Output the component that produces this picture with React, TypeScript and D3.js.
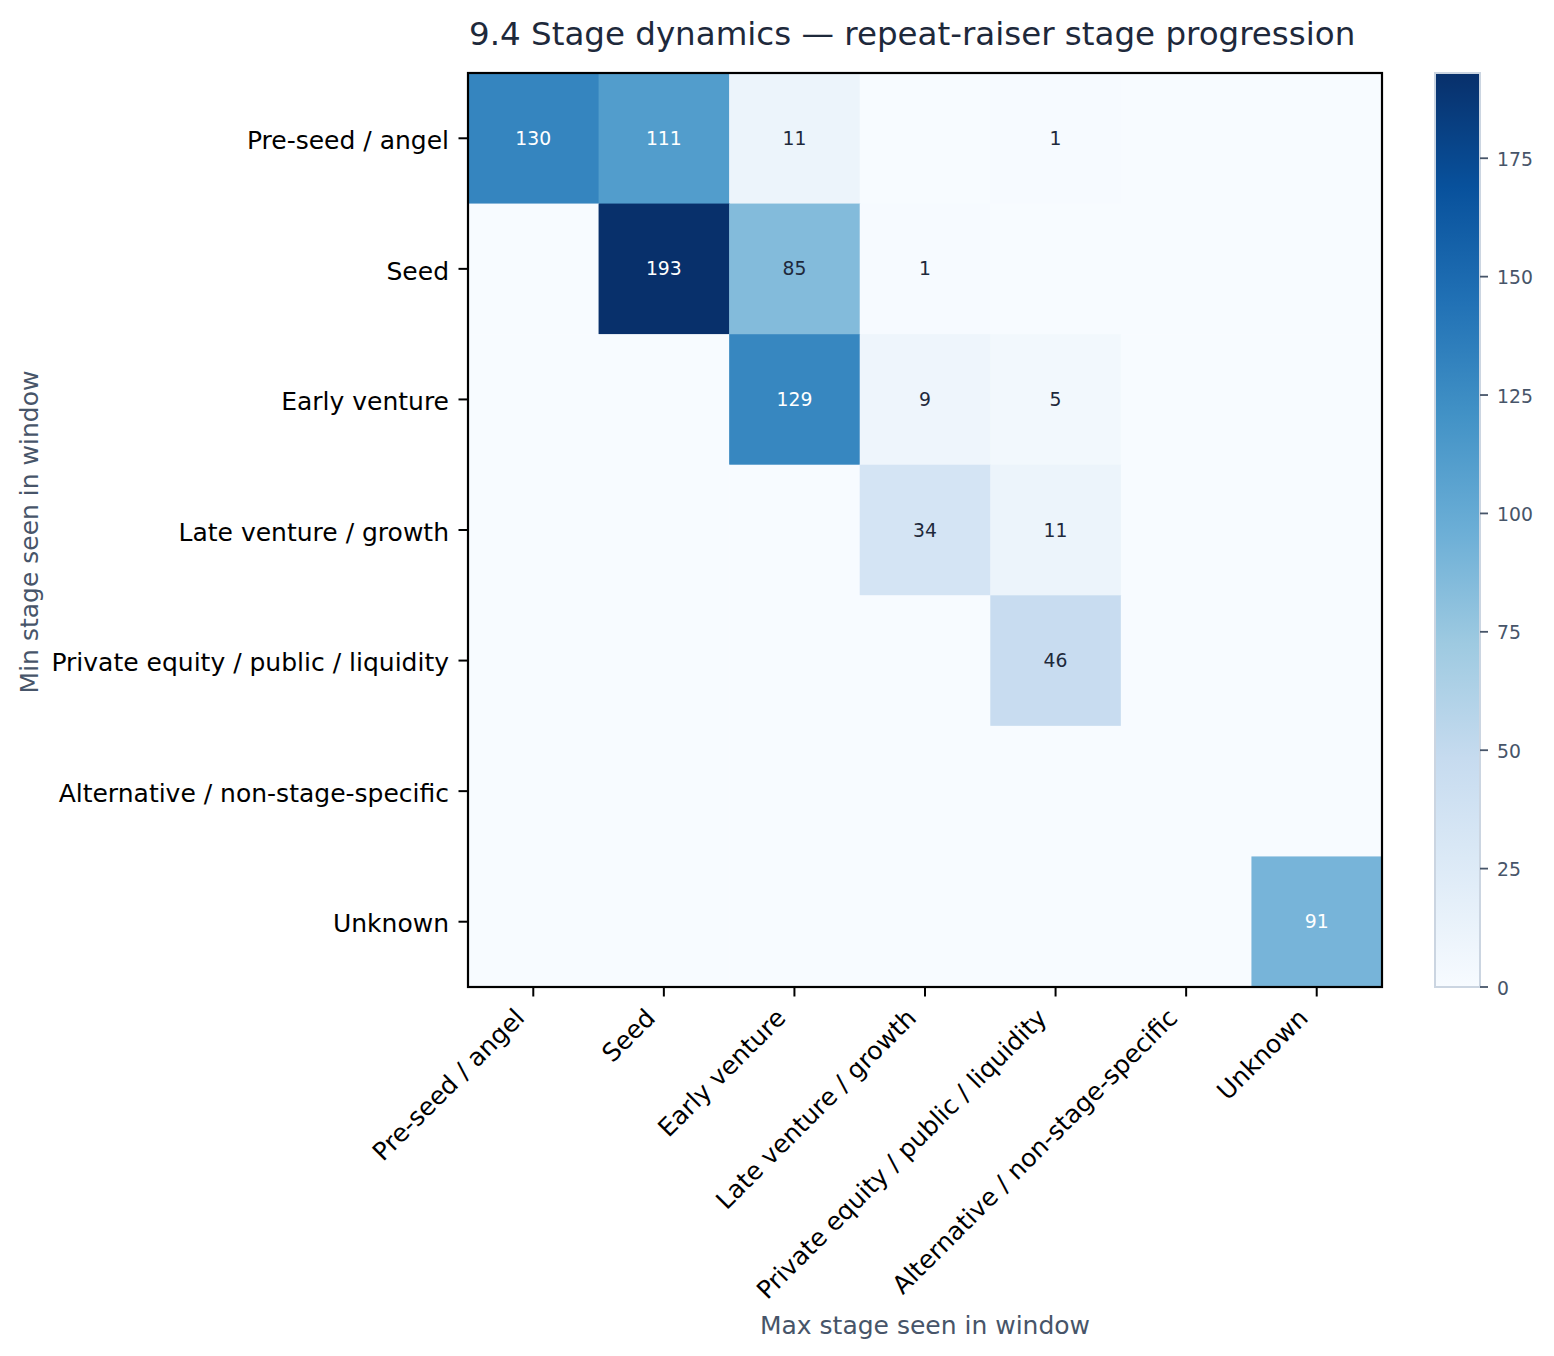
import React from "react";
import * as d3 from "d3";

// stage labels, same order on both axes
const stages = [
  "Pre-seed / angel",
  "Seed",
  "Early venture",
  "Late venture / growth",
  "Private equity / public / liquidity",
  "Alternative / non-stage-specific",
  "Unknown",
];

// rows = min stage, columns = max stage
const rowPreSeed = [130, 111, 11, 0, 1, 0, 0];
const rowSeed = [0, 193, 85, 1, 0, 0, 0];
const rowEarly = [0, 0, 129, 9, 5, 0, 0];
const rowLate = [0, 0, 0, 34, 11, 0, 0];
const rowPrivate = [0, 0, 0, 0, 46, 0, 0];
const rowAlternative = [0, 0, 0, 0, 0, 0, 0];
const rowUnknown = [0, 0, 0, 0, 0, 0, 91];
const counts = [rowPreSeed, rowSeed, rowEarly, rowLate, rowPrivate, rowAlternative, rowUnknown];

const colorbarTicks = [0, 25, 50, 75, 100, 125, 150, 175];

const W = 1554;
const H = 1356;
const left = 468;
const right = 1382;
const top = 73;
const bottom = 987;
const font = "DejaVu Sans, sans-serif";

export default function App() {
  const vmax = d3.max(counts.flat()) ?? 1;

  const x = d3.scaleBand<string>().domain(stages).range([left, right]);
  const y = d3.scaleBand<string>().domain(stages).range([top, bottom]);

  // matplotlib "Blues": linear through the 9 brewer colours
  const blues = d3.schemeBlues[9] as readonly string[];
  const color = d3
    .scaleLinear<string>()
    .domain(blues.map((_, i) => (i / (blues.length - 1)) * vmax))
    .range(blues as string[])
    .interpolate(d3.interpolateRgb);

  const cbLeft = 1435;
  const cbWidth = 45;
  const cbScale = d3.scaleLinear().domain([0, vmax]).range([bottom, top]);

  const tickLen = 9.5;
  const labelPad = 9.5;
  const fs = 25;

  return (
    <svg
      width={W}
      height={H}
      style={{ position: "absolute", left: 0, top: 0, background: "#fff" }}
      fontFamily={font}
    >
      <defs>
        <linearGradient id="cb" x1="0" y1="1" x2="0" y2="0">
          {blues.map((c, i) => (
            <stop key={i} offset={i / (blues.length - 1)} stopColor={c} />
          ))}
        </linearGradient>
      </defs>

      {/* title */}
      <text x={469} y={45} fontSize={32.5} fill="#1e293b">
        9.4 Stage dynamics — repeat-raiser stage progression
      </text>

      {/* cells */}
      {counts.map((row, ri) =>
        row.map((v, ci) => (
          <rect
            key={`${ri}-${ci}`}
            x={x(stages[ci])}
            y={y(stages[ri])}
            width={x.bandwidth() + 0.5}
            height={y.bandwidth() + 0.5}
            fill={color(v)}
          />
        ))
      )}

      {/* annotations, only non-zero */}
      {counts.map((row, ri) =>
        row.map((v, ci) =>
          v > 0 ? (
            <text
              key={`t-${ri}-${ci}`}
              x={(x(stages[ci]) ?? 0) + x.bandwidth() / 2}
              y={(y(stages[ri]) ?? 0) + y.bandwidth() / 2}
              dy="0.35em"
              textAnchor="middle"
              fontSize={18.8}
              fill={v > vmax * 0.45 ? "#ffffff" : "#1e293b"}
            >
              {v}
            </text>
          ) : null
        )
      )}

      {/* frame */}
      <rect x={left} y={top} width={right - left} height={bottom - top} fill="none" stroke="#000" strokeWidth={2.2} />

      {/* y axis */}
      {stages.map((s) => {
        const cy = (y(s) ?? 0) + y.bandwidth() / 2;
        return (
          <g key={`y-${s}`}>
            <line x1={left - tickLen} x2={left} y1={cy} y2={cy} stroke="#000" strokeWidth={2} />
            <text x={left - tickLen - labelPad} y={cy + 2} dy="0.35em" textAnchor="end" fontSize={fs} fill="#000">
              {s}
            </text>
          </g>
        );
      })}

      {/* x axis, labels rotated 45 and right-aligned on their bbox */}
      {stages.map((s) => {
        const cx = (x(s) ?? 0) + x.bandwidth() / 2;
        const ax = cx - 0.707 * fs * 0.24 - 3;
        const ay = bottom + tickLen + labelPad + 0.707 * fs * 0.76;
        return (
          <g key={`x-${s}`}>
            <line x1={cx} x2={cx} y1={bottom} y2={bottom + tickLen} stroke="#000" strokeWidth={2} />
            <text
              x={ax}
              y={ay}
              textAnchor="end"
              fontSize={fs}
              fill="#000"
              transform={`rotate(-45, ${ax}, ${ay})`}
            >
              {s}
            </text>
          </g>
        );
      })}

      {/* axis titles */}
      <text x={925} y={1334} textAnchor="middle" fontSize={fs} fill="#475569">
        Max stage seen in window
      </text>
      <text
        x={38}
        y={532}
        textAnchor="middle"
        fontSize={fs}
        fill="#475569"
        transform={`rotate(-90, 38, 532)`}
      >
        Min stage seen in window
      </text>

      {/* colorbar */}
      <rect x={cbLeft} y={top} width={cbWidth} height={bottom - top} fill="url(#cb)" stroke="#cbd5e1" strokeWidth={2} />
      {colorbarTicks.map((t) => (
        <g key={`cb-${t}`}>
          <line
            x1={cbLeft + cbWidth}
            x2={cbLeft + cbWidth + 8}
            y1={cbScale(t)}
            y2={cbScale(t)}
            stroke="#475569"
            strokeWidth={1.8}
          />
          <text x={cbLeft + cbWidth + 17} y={cbScale(t) + 1} dy="0.35em" fontSize={18.8} fill="#475569">
            {t}
          </text>
        </g>
      ))}
    </svg>
  );
}
